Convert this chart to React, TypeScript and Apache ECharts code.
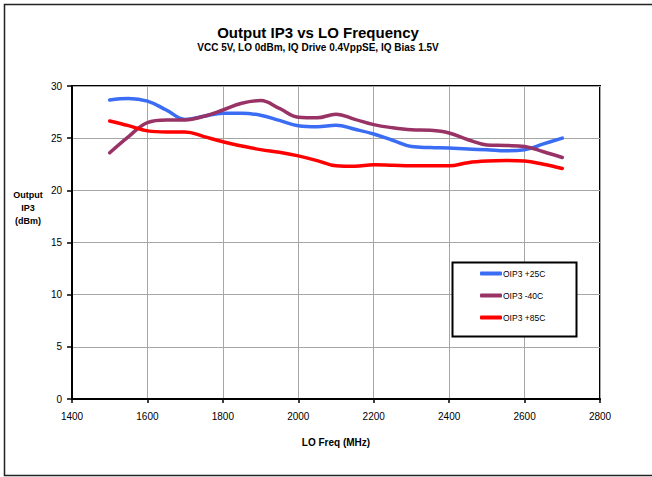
import React, { useEffect, useRef } from "react";
import * as echarts from "echarts";

const freqs = [1500, 1550, 1600, 1650, 1700, 1750, 1800, 1850, 1900, 1950, 2000, 2050, 2100, 2150, 2200, 2250, 2300, 2350, 2400, 2450, 2500, 2550, 2600, 2650, 2700];
const oip3_25 = [28.66, 28.8, 28.55, 27.7, 26.8, 27.1, 27.4, 27.4, 27.2, 26.7, 26.2, 26.1, 26.25, 25.85, 25.4, 24.8, 24.2, 24.1, 24.05, 23.95, 23.9, 23.8, 23.9, 24.45, 25.0];
const oip3_m40 = [23.6, 25.15, 26.5, 26.75, 26.75, 27.1, 27.7, 28.35, 28.6, 27.85, 27.0, 26.95, 27.3, 26.8, 26.3, 26.0, 25.8, 25.75, 25.5, 24.85, 24.35, 24.3, 24.2, 23.7, 23.15];
const oip3_85 = [26.65, 26.2, 25.7, 25.6, 25.6, 25.15, 24.65, 24.25, 23.9, 23.65, 23.3, 22.85, 22.35, 22.3, 22.45, 22.4, 22.35, 22.35, 22.35, 22.65, 22.8, 22.85, 22.8, 22.5, 22.1];
const seriesNames = ["OIP3 +25C", "OIP3 -40C", "OIP3 +85C"];
const seriesColors = ["#3a6cf4", "#993366", "#ff0000"];

const FONT = "Liberation Sans";

export default function App() {
  const ref = useRef<HTMLDivElement>(null);
  useEffect(() => {
    if (!ref.current) return;
    const chart = echarts.init(ref.current, null, { renderer: "svg" });
    const values = [oip3_25, oip3_m40, oip3_85];
    chart.setOption({
      animation: false,
      backgroundColor: "#fff",
      title: {
        text: "Output IP3 vs LO Frequency",
        subtext: "VCC 5V, LO 0dBm, IQ Drive 0.4VppSE, IQ Bias 1.5V",
        left: 313,
        textAlign: "center",
        top: 20,
        itemGap: 2,
        textStyle: { fontFamily: FONT, fontSize: 15, fontWeight: "bold", color: "#000" },
        subtextStyle: { fontFamily: FONT, fontSize: 10, fontWeight: "bold", color: "#000" },
      },
      legend: {
        orient: "vertical",
        left: 480,
        top: 269,
        padding: 0,
        itemGap: 13,
        itemWidth: 22,
        itemHeight: 4,
        icon: "roundRect",
        textStyle: { fontFamily: FONT, fontSize: 8.5, color: "#000", padding: [0, 0, 0, -4] },
        data: seriesNames,
      },
      graphic: [
        {
          type: "rect",
          shape: { x: 4.5, y: 4.5, width: 700, height: 471 },
          style: { fill: "none", stroke: "#222", lineWidth: 1.5 },
          silent: true,
        },
        {
          type: "rect",
          shape: { x: 452.5, y: 262.5, width: 124, height: 74 },
          style: { fill: "#fff", stroke: "#000", lineWidth: 2 },
          z: 3,
          silent: true,
        },
        {
          type: "text",
          x: 28,
          y: 208,
          style: {
            text: "Output\nIP3\n(dBm)",
            fontFamily: FONT,
            fontSize: 9,
            fontWeight: "bold",
            fill: "#000",
            align: "center",
            verticalAlign: "middle",
            lineHeight: 13,
          },
        },
      ],
      grid: {
        left: 72,
        top: 86,
        right: 52,
        bottom: 78,
        show: true,
        borderColor: "#000",
        borderWidth: 2,
      },
      xAxis: {
        type: "value",
        min: 1400,
        max: 2800,
        interval: 200,
        name: "LO Freq (MHz)",
        nameLocation: "middle",
        nameGap: 38,
        nameTextStyle: { fontFamily: FONT, fontSize: 10, fontWeight: "bold", color: "#000" },
        axisLine: { lineStyle: { color: "#000", width: 2 } },
        axisTick: { show: true, length: 4, lineStyle: { color: "#000", width: 1.5 } },
        axisLabel: {
          fontFamily: FONT,
          fontSize: 10,
          color: "#000",
          margin: 12,
          formatter: (v: number) => String(v),
        },
        splitLine: { show: true, lineStyle: { color: "#a6a6a6", width: 1 } },
      },
      yAxis: {
        type: "value",
        min: 0,
        max: 30,
        interval: 5,
        axisLine: { lineStyle: { color: "#000", width: 2 } },
        axisTick: { show: true, length: 5, lineStyle: { color: "#000", width: 1.5 } },
        axisLabel: { fontFamily: FONT, fontSize: 10, color: "#000", margin: 10 },
        splitLine: { show: true, lineStyle: { color: "#a6a6a6", width: 1 } },
      },
      series: seriesNames.map((name, i) => ({
        name,
        type: "line",
        smooth: 0.4,
        showSymbol: false,
        symbol: "none",
        color: seriesColors[i],
        lineStyle: { width: 3.5, color: seriesColors[i], cap: "round" },
        data: freqs.map((f, j) => [f, values[i][j]]),
        z: 2,
      })),
    });
    return () => chart.dispose();
  }, []);
  return (
    <div
      ref={ref}
      style={{ position: "fixed", left: 0, top: 0, width: 652, height: 477 }}
    />
  );
}
